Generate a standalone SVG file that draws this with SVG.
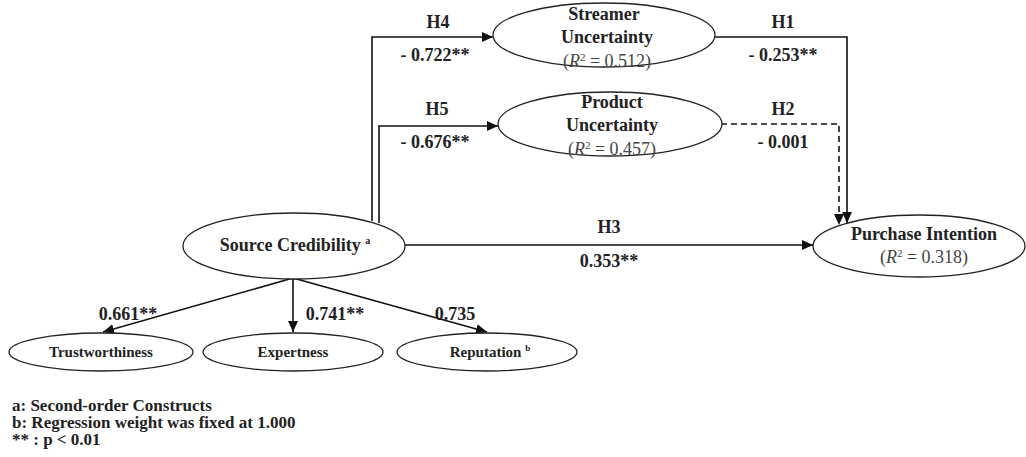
<svg xmlns="http://www.w3.org/2000/svg" width="1026" height="457" viewBox="0 0 1026 457">
<style>
.node ellipse{fill:#fff;stroke:#222;stroke-width:1.3}
.lbl{font-family:"Liberation Serif","Times New Roman",serif;font-weight:bold;fill:#222;text-anchor:middle}
.big{font-size:18px}
.small{font-size:15px}
.r2{font-family:"Liberation Serif","Times New Roman",serif;font-weight:normal;font-size:18px;fill:#444;text-anchor:middle}
.edge{fill:none;stroke:#111;stroke-width:1.6}
.dash{stroke-dasharray:6 4}
.note{font-family:"Liberation Serif","Times New Roman",serif;font-weight:bold;font-size:17px;fill:#222}
</style>
<defs>
<marker id="arr" markerUnits="userSpaceOnUse" markerWidth="11" markerHeight="10" viewBox="0 0 11 10" refX="11" refY="5" orient="auto">
<path d="M0,0 L11,5 L0,10 z" fill="#111"/>
</marker>
</defs>
<g id="connectors">
<path class="edge" d="M372,221 V37 H493" marker-end="url(#arr)"/>
<path class="edge" d="M379,223 V126 H498" marker-end="url(#arr)"/>
<path class="edge" d="M405,245 H813" marker-end="url(#arr)"/>
<path class="edge" d="M715,37 H847 V223" marker-end="url(#arr)"/>
<path class="edge dash" d="M721,124 H839 V225" marker-end="url(#arr)"/>
<path class="edge" d="M293,278 L103,332" marker-end="url(#arr)"/>
<path class="edge" d="M293,278 V332" marker-end="url(#arr)"/>
<path class="edge" d="M293,278 L487,332" marker-end="url(#arr)"/>
<g id="edge-labels">
<text class="lbl big" x="438" y="28">H4</text>
<text class="lbl big" x="435" y="61">- 0.722**</text>
<text class="lbl big" x="437" y="115">H5</text>
<text class="lbl big" x="435" y="148">- 0.676**</text>
<text class="lbl big" x="783" y="28">H1</text>
<text class="lbl big" x="783" y="61">- 0.253**</text>
<text class="lbl big" x="783" y="115">H2</text>
<text class="lbl big" x="783" y="148">- 0.001</text>
<text class="lbl big" x="609" y="233">H3</text>
<text class="lbl big" x="609" y="267">0.353**</text>
<text class="lbl big" x="128" y="320">0.661**</text>
<text class="lbl big" x="335" y="320">0.741**</text>
<text class="lbl big" x="455" y="320">0.735</text>
</g>
</g>
<g id="streamer-uncertainty" class="node">
<ellipse cx="604" cy="35" rx="111" ry="32"/>
<text class="lbl big" x="604" y="20">Streamer</text>
<text class="lbl big" x="607" y="43">Uncertainty</text>
<text class="r2" x="607" y="67">(<tspan font-style="italic">R</tspan><tspan font-size="11" dy="-6">2</tspan><tspan dy="6"> = 0.512)</tspan></text>
</g>
<g id="product-uncertainty" class="node">
<ellipse cx="610" cy="124" rx="112" ry="32"/>
<text class="lbl big" x="612" y="108">Product</text>
<text class="lbl big" x="612" y="131">Uncertainty</text>
<text class="r2" x="612" y="155">(<tspan font-style="italic">R</tspan><tspan font-size="11" dy="-6">2</tspan><tspan dy="6"> = 0.457)</tspan></text>
</g>
<g id="source-credibility" class="node">
<ellipse cx="294" cy="246" rx="111" ry="33"/>
<text class="lbl big" x="295" y="251">Source Credibility <tspan font-size="10" dy="-7">a</tspan></text>
</g>
<g id="purchase-intention" class="node">
<ellipse cx="919" cy="246" rx="106" ry="31"/>
<text class="lbl big" x="924" y="240">Purchase Intention</text>
<text class="r2" x="924" y="263">(<tspan font-style="italic">R</tspan><tspan font-size="11" dy="-6">2</tspan><tspan dy="6"> = 0.318)</tspan></text>
</g>
<g id="trustworthiness" class="node">
<ellipse cx="101" cy="352" rx="92" ry="19"/>
<text class="lbl small" x="101" y="357">Trustworthiness</text>
</g>
<g id="expertness" class="node">
<ellipse cx="293" cy="352" rx="90" ry="19"/>
<text class="lbl small" x="293" y="357">Expertness</text>
</g>
<g id="reputation" class="node">
<ellipse cx="487" cy="352" rx="90" ry="19"/>
<text class="lbl small" x="490" y="357">Reputation <tspan font-size="9" dy="-6">b</tspan></text>
</g>
<g id="notes">
<text class="note" x="12" y="411">a: Second-order Constructs</text>
<text class="note" x="12" y="428">b: Regression weight was fixed at 1.000</text>
<text class="note" x="12" y="445">** : p &lt; 0.01</text>
</g>
</svg>
